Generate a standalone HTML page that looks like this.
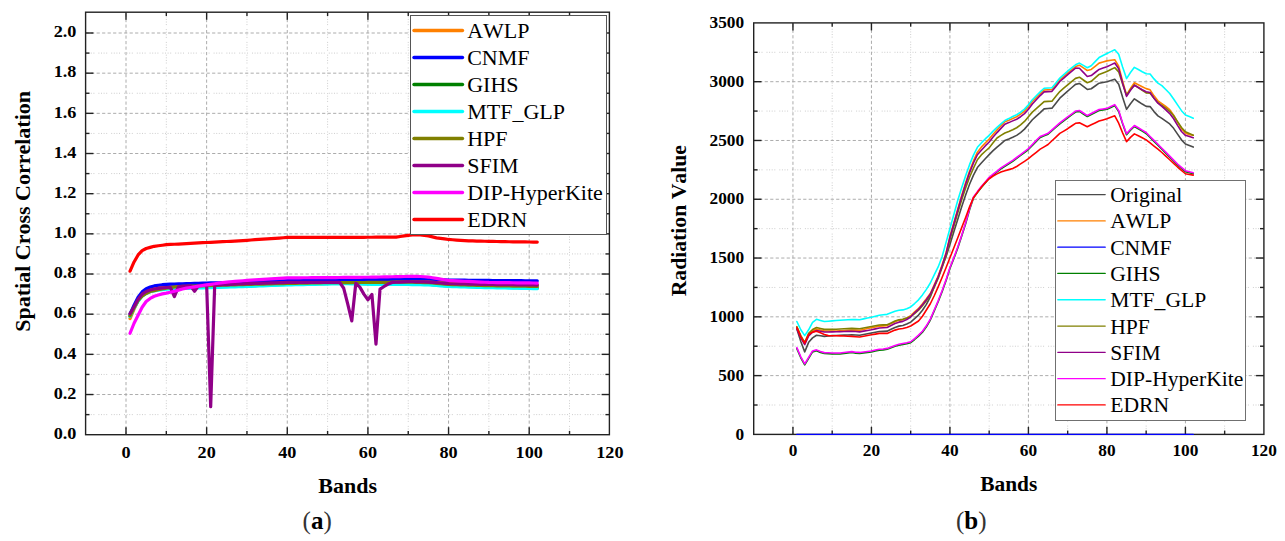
<!DOCTYPE html>
<html><head><meta charset="utf-8"><style>
html,body{margin:0;padding:0;background:#fff;}
body{width:1285px;height:541px;overflow:hidden;}
svg{display:block;}
text{font-family:"Liberation Serif",serif;fill:#000;font-kerning:none;}
.tl{font-size:17px;font-weight:bold;}
.at{font-size:21px;font-weight:bold;}
.lg{font-size:22px;}
.cap{font-size:25px;}
.mj{stroke:#acacac;stroke-width:1;stroke-dasharray:3.2 2.3;}
.mn{stroke:#cdcdcd;stroke-width:1;stroke-dasharray:1 1.6 1 1.6 1 1.6 1 4;}
.tk{stroke:#222;stroke-width:1.4;}
.ax{stroke:#222;stroke-width:1.4;}
</style></head><body>
<svg width="1285" height="541" viewBox="0 0 1285 541">
<defs><clipPath id="cl"><rect x="85.6" y="12.2" width="523.8" height="422.5"/></clipPath>
<clipPath id="cr"><rect x="751.7" y="22.9" width="512.2" height="413.5"/></clipPath></defs>
<g><line x1="166.32" y1="434.7" x2="166.32" y2="12.2" class="mn"/><line x1="246.96" y1="434.7" x2="246.96" y2="12.2" class="mn"/><line x1="327.60" y1="434.7" x2="327.60" y2="12.2" class="mn"/><line x1="408.24" y1="434.7" x2="408.24" y2="12.2" class="mn"/><line x1="488.88" y1="434.7" x2="488.88" y2="12.2" class="mn"/><line x1="569.52" y1="434.7" x2="569.52" y2="12.2" class="mn"/><line x1="85.6" y1="414.62" x2="609.4" y2="414.62" class="mn"/><line x1="85.6" y1="374.44" x2="609.4" y2="374.44" class="mn"/><line x1="85.6" y1="334.27" x2="609.4" y2="334.27" class="mn"/><line x1="85.6" y1="294.10" x2="609.4" y2="294.10" class="mn"/><line x1="85.6" y1="253.93" x2="609.4" y2="253.93" class="mn"/><line x1="85.6" y1="213.76" x2="609.4" y2="213.76" class="mn"/><line x1="85.6" y1="173.59" x2="609.4" y2="173.59" class="mn"/><line x1="85.6" y1="133.42" x2="609.4" y2="133.42" class="mn"/><line x1="85.6" y1="93.25" x2="609.4" y2="93.25" class="mn"/><line x1="85.6" y1="53.08" x2="609.4" y2="53.08" class="mn"/><line x1="126.00" y1="434.7" x2="126.00" y2="12.2" class="mj"/><line x1="206.64" y1="434.7" x2="206.64" y2="12.2" class="mj"/><line x1="287.28" y1="434.7" x2="287.28" y2="12.2" class="mj"/><line x1="367.92" y1="434.7" x2="367.92" y2="12.2" class="mj"/><line x1="448.56" y1="434.7" x2="448.56" y2="12.2" class="mj"/><line x1="529.20" y1="434.7" x2="529.20" y2="12.2" class="mj"/><line x1="85.6" y1="394.53" x2="609.4" y2="394.53" class="mj"/><line x1="85.6" y1="354.36" x2="609.4" y2="354.36" class="mj"/><line x1="85.6" y1="314.19" x2="609.4" y2="314.19" class="mj"/><line x1="85.6" y1="274.02" x2="609.4" y2="274.02" class="mj"/><line x1="85.6" y1="233.85" x2="609.4" y2="233.85" class="mj"/><line x1="85.6" y1="193.68" x2="609.4" y2="193.68" class="mj"/><line x1="85.6" y1="153.51" x2="609.4" y2="153.51" class="mj"/><line x1="85.6" y1="113.34" x2="609.4" y2="113.34" class="mj"/><line x1="85.6" y1="73.17" x2="609.4" y2="73.17" class="mj"/><line x1="85.6" y1="33.00" x2="609.4" y2="33.00" class="mj"/></g>
<g clip-path="url(#cl)"><polyline points="130.03,318.61 134.06,309.17 138.10,300.53 142.13,294.51 146.16,291.09 150.19,289.08 154.22,288.28 158.26,287.48 162.29,287.08 166.32,286.67 170.35,286.55 174.38,286.43 178.42,286.31 182.45,286.19 186.48,286.07 190.51,285.95 194.54,285.83 198.58,285.71 202.61,285.59 206.64,285.47 210.67,285.37 214.70,285.27 218.74,285.17 222.77,285.07 226.80,284.97 230.83,284.87 234.86,284.77 238.90,284.67 242.93,284.56 246.96,284.46 250.99,284.32 255.02,284.18 259.06,284.04 263.09,283.90 267.12,283.76 271.15,283.62 275.18,283.48 279.22,283.34 283.25,283.20 287.28,283.06 291.31,282.92 295.34,282.78 299.38,282.64 303.41,282.50 307.44,282.36 311.47,282.21 315.50,282.07 319.54,281.93 323.57,281.79 327.60,281.65 331.63,281.53 335.66,281.41 339.70,281.29 343.73,281.17 347.76,281.05 351.79,280.93 355.82,280.81 359.86,280.69 363.89,280.57 367.92,280.45 371.95,280.41 375.98,280.37 380.02,280.33 384.05,280.29 388.08,280.25 392.11,280.21 396.14,280.17 400.18,280.13 404.21,280.09 408.24,280.05 412.27,280.13 416.30,280.21 420.34,280.29 424.37,280.37 428.40,280.45 432.43,280.97 436.46,281.49 440.50,282.01 444.53,282.54 448.56,283.06 452.59,283.20 456.62,283.34 460.66,283.48 464.69,283.62 468.72,283.76 472.75,283.90 476.78,284.04 480.82,284.18 484.85,284.32 488.88,284.46 492.91,284.51 496.94,284.56 500.98,284.61 505.01,284.67 509.04,284.72 513.07,284.77 517.10,284.82 521.14,284.87 525.17,284.92 529.20,284.97 533.23,285.02 537.26,285.07" fill="none" stroke="#ff8000" stroke-width="3.2" stroke-linejoin="round" stroke-linecap="round"/><polyline points="130.03,314.19 134.06,305.15 138.10,297.12 142.13,291.86 146.16,288.68 150.19,287.08 154.22,285.92 158.26,285.22 162.29,284.72 166.32,284.44 170.35,284.21 174.38,284.07 178.42,283.93 182.45,283.80 186.48,283.66 190.51,283.54 194.54,283.42 198.58,283.30 202.61,283.18 206.64,283.06 210.67,282.96 214.70,282.86 218.74,282.76 222.77,282.66 226.80,282.56 230.83,282.46 234.86,282.36 238.90,282.25 242.93,282.15 246.96,282.05 250.99,281.91 255.02,281.77 259.06,281.63 263.09,281.49 267.12,281.35 271.15,281.21 275.18,281.07 279.22,280.93 283.25,280.79 287.28,280.65 291.31,280.59 295.34,280.53 299.38,280.47 303.41,280.41 307.44,280.35 311.47,280.29 315.50,280.23 319.54,280.17 323.57,280.11 327.60,280.05 331.63,280.01 335.66,279.97 339.70,279.92 343.73,279.88 347.76,279.84 351.79,279.80 355.82,279.76 359.86,279.72 363.89,279.68 367.92,279.64 371.95,279.58 375.98,279.52 380.02,279.46 384.05,279.40 388.08,279.34 392.11,279.28 396.14,279.22 400.18,279.16 404.21,279.10 408.24,279.04 412.27,279.00 416.30,278.96 420.34,278.92 424.37,278.88 428.40,278.84 432.43,279.08 436.46,279.32 440.50,279.56 444.53,279.80 448.56,280.05 452.59,280.09 456.62,280.13 460.66,280.17 464.69,280.21 468.72,280.25 472.75,280.29 476.78,280.33 480.82,280.37 484.85,280.41 488.88,280.45 492.91,280.48 496.94,280.51 500.98,280.55 505.01,280.58 509.04,280.61 513.07,280.65 517.10,280.68 521.14,280.71 525.17,280.75 529.20,280.78 533.23,280.82 537.26,280.85" fill="none" stroke="#0000ff" stroke-width="3.2" stroke-linejoin="round" stroke-linecap="round"/><polyline points="130.03,316.20 134.06,307.56 138.10,300.53 142.13,295.51 146.16,292.90 150.19,291.09 154.22,290.29 158.26,289.49 162.29,288.98 166.32,288.48 170.35,288.34 174.38,288.20 178.42,288.06 182.45,287.92 186.48,287.78 190.51,287.64 194.54,287.50 198.58,287.36 202.61,287.22 206.64,287.08 210.67,286.95 214.70,286.83 218.74,286.71 222.77,286.59 226.80,286.47 230.83,286.35 234.86,286.23 238.90,286.11 242.93,285.99 246.96,285.87 250.99,285.71 255.02,285.55 259.06,285.39 263.09,285.23 267.12,285.07 271.15,284.91 275.18,284.75 279.22,284.58 283.25,284.42 287.28,284.26 291.31,284.18 295.34,284.10 299.38,284.02 303.41,283.94 307.44,283.86 311.47,283.78 315.50,283.70 319.54,283.62 323.57,283.54 327.60,283.46 331.63,283.38 335.66,283.30 339.70,283.22 343.73,283.14 347.76,283.06 351.79,283.18 355.82,283.30 359.86,283.42 363.89,283.54 367.92,283.66 371.95,283.68 375.98,283.70 380.02,283.72 384.05,283.74 388.08,283.76 392.11,283.78 396.14,283.80 400.18,283.82 404.21,283.84 408.24,283.86 412.27,283.94 416.30,284.02 420.34,284.10 424.37,284.18 428.40,284.26 432.43,284.58 436.46,284.91 440.50,285.23 444.53,285.55 448.56,285.87 452.59,285.99 456.62,286.11 460.66,286.23 464.69,286.35 468.72,286.47 472.75,286.59 476.78,286.71 480.82,286.83 484.85,286.95 488.88,287.08 492.91,287.16 496.94,287.24 500.98,287.33 505.01,287.41 509.04,287.49 513.07,287.58 517.10,287.66 521.14,287.74 525.17,287.83 529.20,287.91 533.23,288.00 537.26,288.08" fill="none" stroke="#008000" stroke-width="3.2" stroke-linejoin="round" stroke-linecap="round"/><polyline points="130.03,316.60 134.06,308.16 138.10,301.13 142.13,296.11 146.16,293.50 150.19,291.69 154.22,290.89 158.26,290.09 162.29,289.59 166.32,289.08 170.35,288.94 174.38,288.80 178.42,288.66 182.45,288.52 186.48,288.38 190.51,288.24 194.54,288.10 198.58,287.96 202.61,287.82 206.64,287.68 210.67,287.56 214.70,287.44 218.74,287.32 222.77,287.20 226.80,287.08 230.83,286.95 234.86,286.83 238.90,286.71 242.93,286.59 246.96,286.47 250.99,286.31 255.02,286.15 259.06,285.99 263.09,285.83 267.12,285.67 271.15,285.51 275.18,285.35 279.22,285.19 283.25,285.03 287.28,284.87 291.31,284.79 295.34,284.71 299.38,284.62 303.41,284.54 307.44,284.46 311.47,284.38 315.50,284.30 319.54,284.22 323.57,284.14 327.60,284.06 331.63,283.98 335.66,283.90 339.70,283.82 343.73,283.74 347.76,283.66 351.79,283.78 355.82,283.90 359.86,284.02 363.89,284.14 367.92,284.26 371.95,284.28 375.98,284.30 380.02,284.32 384.05,284.34 388.08,284.36 392.11,284.38 396.14,284.40 400.18,284.42 404.21,284.44 408.24,284.46 412.27,284.54 416.30,284.62 420.34,284.71 424.37,284.79 428.40,284.87 432.43,285.19 436.46,285.51 440.50,285.83 444.53,286.15 448.56,286.47 452.59,286.59 456.62,286.71 460.66,286.83 464.69,286.95 468.72,287.08 472.75,287.20 476.78,287.32 480.82,287.44 484.85,287.56 488.88,287.68 492.91,287.76 496.94,287.85 500.98,287.93 505.01,288.01 509.04,288.10 513.07,288.18 517.10,288.26 521.14,288.35 525.17,288.43 529.20,288.51 533.23,288.60 537.26,288.68" fill="none" stroke="#00ffff" stroke-width="3.2" stroke-linejoin="round" stroke-linecap="round"/><polyline points="130.03,315.80 134.06,307.76 138.10,300.53 142.13,296.11 146.16,293.50 150.19,291.49 154.22,290.59 158.26,289.69 162.29,288.98 166.32,288.28 170.35,287.64 174.38,286.99 178.42,286.61 182.45,286.47 186.48,286.34 190.51,286.20 194.54,286.07 198.58,285.94 202.61,285.80 206.64,285.67 210.67,285.55 214.70,285.43 218.74,285.31 222.77,285.19 226.80,285.07 230.83,284.95 234.86,284.83 238.90,284.71 242.93,284.58 246.96,284.46 250.99,284.36 255.02,284.26 259.06,284.16 263.09,284.06 267.12,283.96 271.15,283.86 275.18,283.76 279.22,283.66 283.25,283.56 287.28,283.46 291.31,283.38 295.34,283.30 299.38,283.22 303.41,283.14 307.44,283.06 311.47,282.98 315.50,282.90 319.54,282.82 323.57,282.74 327.60,282.66 331.63,282.64 335.66,282.62 339.70,282.60 343.73,282.58 347.76,282.56 351.79,282.54 355.82,282.52 359.86,282.50 363.89,282.48 367.92,282.46 371.95,282.42 375.98,282.38 380.02,282.34 384.05,282.30 388.08,282.25 392.11,282.21 396.14,282.17 400.18,282.13 404.21,282.09 408.24,282.05 412.27,282.17 416.30,282.30 420.34,282.42 424.37,282.54 428.40,282.66 432.43,283.02 436.46,283.38 440.50,283.74 444.53,284.10 448.56,284.46 452.59,284.58 456.62,284.71 460.66,284.83 464.69,284.95 468.72,285.07 472.75,285.19 476.78,285.31 480.82,285.43 484.85,285.55 488.88,285.67 492.91,285.74 496.94,285.80 500.98,285.87 505.01,285.94 509.04,286.00 513.07,286.07 517.10,286.14 521.14,286.20 525.17,286.27 529.20,286.34 533.23,286.41 537.26,286.47" fill="none" stroke="#808000" stroke-width="3.2" stroke-linejoin="round" stroke-linecap="round"/><polyline points="130.03,313.59 134.06,306.76 138.10,299.33 142.13,294.17 146.16,291.49 150.19,290.02 154.22,288.98 158.26,288.38 162.29,287.89 166.32,287.51 170.35,287.48 174.38,296.52 178.42,286.87 182.45,286.27 186.48,286.07 190.51,285.87 194.54,291.29 198.58,285.67 202.61,285.37 206.64,285.07 210.67,406.58 214.70,285.07 218.74,284.89 222.77,284.72 226.80,284.54 230.83,284.36 234.86,284.19 238.90,284.01 242.93,283.84 246.96,283.66 250.99,283.54 255.02,283.42 259.06,283.30 263.09,283.18 267.12,283.06 271.15,282.94 275.18,282.82 279.22,282.70 283.25,282.58 287.28,282.46 291.31,282.46 295.34,282.46 299.38,282.46 303.41,282.46 307.44,282.46 311.47,282.46 315.50,282.46 319.54,282.46 323.57,282.46 327.60,282.46 331.63,282.46 335.66,282.46 339.70,282.46 343.73,288.28 347.76,304.15 351.79,320.82 355.82,283.26 359.86,287.08 363.89,294.11 367.92,299.73 371.95,294.51 375.98,344.12 380.02,289.08 384.05,286.47 388.08,284.06 392.11,282.46 396.14,282.25 400.18,282.05 404.21,281.85 408.24,281.65 412.27,281.73 416.30,281.81 420.34,281.89 424.37,281.97 428.40,282.05 432.43,282.38 436.46,282.70 440.50,283.02 444.53,283.34 448.56,283.66 452.59,283.74 456.62,283.82 460.66,283.90 464.69,283.98 468.72,284.06 472.75,284.14 476.78,284.22 480.82,284.30 484.85,284.38 488.88,284.46 492.91,284.51 496.94,284.56 500.98,284.61 505.01,284.67 509.04,284.72 513.07,284.77 517.10,284.82 521.14,284.87 525.17,284.92 529.20,284.97 533.23,285.02 537.26,285.07" fill="none" stroke="#900088" stroke-width="3.2" stroke-linejoin="round" stroke-linecap="round"/><polyline points="130.03,333.27 134.06,323.23 138.10,315.19 142.13,307.23 146.16,301.54 150.19,298.46 154.22,296.26 158.26,294.96 162.29,293.92 166.32,293.16 170.35,292.27 174.38,291.18 178.42,290.10 182.45,289.02 186.48,288.15 190.51,287.50 194.54,286.84 198.58,286.18 202.61,285.52 206.64,284.87 210.67,284.30 214.70,283.74 218.74,283.18 222.77,282.62 226.80,282.05 230.83,281.73 234.86,281.41 238.90,281.09 242.93,280.77 246.96,280.45 250.99,280.19 255.02,279.92 259.06,279.66 263.09,279.40 267.12,279.14 271.15,278.88 275.18,278.62 279.22,278.36 283.25,278.10 287.28,277.84 291.31,277.82 295.34,277.80 299.38,277.78 303.41,277.76 307.44,277.74 311.47,277.72 315.50,277.70 319.54,277.68 323.57,277.66 327.60,277.64 331.63,277.60 335.66,277.55 339.70,277.51 343.73,277.47 347.76,277.43 351.79,277.39 355.82,277.35 359.86,277.31 363.89,277.27 367.92,277.23 371.95,277.15 375.98,277.07 380.02,276.99 384.05,276.91 388.08,276.83 392.11,276.75 396.14,276.67 400.18,276.59 404.21,276.51 408.24,276.43 412.27,276.33 416.30,276.23 420.34,276.50 424.37,276.76 428.40,277.03 432.43,277.72 436.46,278.40 440.50,279.08 444.53,279.76 448.56,280.45 452.59,280.65 456.62,280.85 460.66,281.05 464.69,281.25 468.72,281.45 472.75,281.65 476.78,281.85 480.82,282.05 484.85,282.25 488.88,282.46 492.91,282.51 496.94,282.56 500.98,282.61 505.01,282.66 509.04,282.71 513.07,282.76 517.10,282.81 521.14,282.86 525.17,282.91 529.20,282.96 533.23,283.01 537.26,283.06" fill="none" stroke="#ff00ff" stroke-width="3.2" stroke-linejoin="round" stroke-linecap="round"/><polyline points="130.03,271.21 134.06,261.97 138.10,254.94 142.13,250.72 146.16,248.51 150.19,247.41 154.22,246.30 158.26,245.77 162.29,245.23 166.32,244.70 170.35,244.47 174.38,244.25 178.42,244.03 182.45,243.81 186.48,243.59 190.51,243.37 194.54,243.15 198.58,242.93 202.61,242.71 206.64,242.49 210.67,242.29 214.70,242.08 218.74,241.88 222.77,241.68 226.80,241.48 230.83,241.28 234.86,241.03 238.90,240.78 242.93,240.53 246.96,240.28 250.99,240.00 255.02,239.71 259.06,239.43 263.09,239.15 267.12,238.87 271.15,238.59 275.18,238.31 279.22,238.03 283.25,237.75 287.28,237.47 291.31,237.47 295.34,237.47 299.38,237.47 303.41,237.47 307.44,237.47 311.47,237.47 315.50,237.47 319.54,237.47 323.57,237.47 327.60,237.47 331.63,237.45 335.66,237.43 339.70,237.41 343.73,237.38 347.76,237.36 351.79,237.34 355.82,237.32 359.86,237.30 363.89,237.28 367.92,237.26 371.95,237.24 375.98,237.21 380.02,237.18 384.05,237.15 388.08,237.12 392.11,237.09 396.14,237.06 400.18,236.46 404.21,235.86 408.24,235.36 412.27,234.85 416.30,234.85 420.34,234.85 424.37,235.36 428.40,235.86 432.43,236.86 436.46,237.87 440.50,238.40 444.53,238.94 448.56,239.47 452.59,239.75 456.62,240.04 460.66,240.32 464.69,240.60 468.72,240.88 472.75,240.97 476.78,241.06 480.82,241.15 484.85,241.24 488.88,241.33 492.91,241.42 496.94,241.50 500.98,241.59 505.01,241.68 509.04,241.73 513.07,241.78 517.10,241.83 521.14,241.88 525.17,241.93 529.20,241.98 533.23,242.03 537.26,242.08" fill="none" stroke="#ff0000" stroke-width="3.2" stroke-linejoin="round" stroke-linecap="round"/></g>
<line x1="126.00" y1="434.7" x2="126.00" y2="427.2" class="tk"/><line x1="126.00" y1="12.2" x2="126.00" y2="19.7" class="tk"/><line x1="206.64" y1="434.7" x2="206.64" y2="427.2" class="tk"/><line x1="206.64" y1="12.2" x2="206.64" y2="19.7" class="tk"/><line x1="287.28" y1="434.7" x2="287.28" y2="427.2" class="tk"/><line x1="287.28" y1="12.2" x2="287.28" y2="19.7" class="tk"/><line x1="367.92" y1="434.7" x2="367.92" y2="427.2" class="tk"/><line x1="367.92" y1="12.2" x2="367.92" y2="19.7" class="tk"/><line x1="448.56" y1="434.7" x2="448.56" y2="427.2" class="tk"/><line x1="448.56" y1="12.2" x2="448.56" y2="19.7" class="tk"/><line x1="529.20" y1="434.7" x2="529.20" y2="427.2" class="tk"/><line x1="529.20" y1="12.2" x2="529.20" y2="19.7" class="tk"/><line x1="166.32" y1="434.7" x2="166.32" y2="430.9" class="tk"/><line x1="166.32" y1="12.2" x2="166.32" y2="16.0" class="tk"/><line x1="246.96" y1="434.7" x2="246.96" y2="430.9" class="tk"/><line x1="246.96" y1="12.2" x2="246.96" y2="16.0" class="tk"/><line x1="327.60" y1="434.7" x2="327.60" y2="430.9" class="tk"/><line x1="327.60" y1="12.2" x2="327.60" y2="16.0" class="tk"/><line x1="408.24" y1="434.7" x2="408.24" y2="430.9" class="tk"/><line x1="408.24" y1="12.2" x2="408.24" y2="16.0" class="tk"/><line x1="488.88" y1="434.7" x2="488.88" y2="430.9" class="tk"/><line x1="488.88" y1="12.2" x2="488.88" y2="16.0" class="tk"/><line x1="569.52" y1="434.7" x2="569.52" y2="430.9" class="tk"/><line x1="569.52" y1="12.2" x2="569.52" y2="16.0" class="tk"/><line x1="85.6" y1="394.53" x2="93.39999999999999" y2="394.53" class="tk"/><line x1="609.4" y1="394.53" x2="601.6" y2="394.53" class="tk"/><line x1="85.6" y1="354.36" x2="93.39999999999999" y2="354.36" class="tk"/><line x1="609.4" y1="354.36" x2="601.6" y2="354.36" class="tk"/><line x1="85.6" y1="314.19" x2="93.39999999999999" y2="314.19" class="tk"/><line x1="609.4" y1="314.19" x2="601.6" y2="314.19" class="tk"/><line x1="85.6" y1="274.02" x2="93.39999999999999" y2="274.02" class="tk"/><line x1="609.4" y1="274.02" x2="601.6" y2="274.02" class="tk"/><line x1="85.6" y1="233.85" x2="93.39999999999999" y2="233.85" class="tk"/><line x1="609.4" y1="233.85" x2="601.6" y2="233.85" class="tk"/><line x1="85.6" y1="193.68" x2="93.39999999999999" y2="193.68" class="tk"/><line x1="609.4" y1="193.68" x2="601.6" y2="193.68" class="tk"/><line x1="85.6" y1="153.51" x2="93.39999999999999" y2="153.51" class="tk"/><line x1="609.4" y1="153.51" x2="601.6" y2="153.51" class="tk"/><line x1="85.6" y1="113.34" x2="93.39999999999999" y2="113.34" class="tk"/><line x1="609.4" y1="113.34" x2="601.6" y2="113.34" class="tk"/><line x1="85.6" y1="73.17" x2="93.39999999999999" y2="73.17" class="tk"/><line x1="609.4" y1="73.17" x2="601.6" y2="73.17" class="tk"/><line x1="85.6" y1="33.00" x2="93.39999999999999" y2="33.00" class="tk"/><line x1="609.4" y1="33.00" x2="601.6" y2="33.00" class="tk"/><line x1="85.6" y1="414.62" x2="89.5" y2="414.62" class="tk"/><line x1="609.4" y1="414.62" x2="605.5" y2="414.62" class="tk"/><line x1="85.6" y1="374.44" x2="89.5" y2="374.44" class="tk"/><line x1="609.4" y1="374.44" x2="605.5" y2="374.44" class="tk"/><line x1="85.6" y1="334.27" x2="89.5" y2="334.27" class="tk"/><line x1="609.4" y1="334.27" x2="605.5" y2="334.27" class="tk"/><line x1="85.6" y1="294.10" x2="89.5" y2="294.10" class="tk"/><line x1="609.4" y1="294.10" x2="605.5" y2="294.10" class="tk"/><line x1="85.6" y1="253.93" x2="89.5" y2="253.93" class="tk"/><line x1="609.4" y1="253.93" x2="605.5" y2="253.93" class="tk"/><line x1="85.6" y1="213.76" x2="89.5" y2="213.76" class="tk"/><line x1="609.4" y1="213.76" x2="605.5" y2="213.76" class="tk"/><line x1="85.6" y1="173.59" x2="89.5" y2="173.59" class="tk"/><line x1="609.4" y1="173.59" x2="605.5" y2="173.59" class="tk"/><line x1="85.6" y1="133.42" x2="89.5" y2="133.42" class="tk"/><line x1="609.4" y1="133.42" x2="605.5" y2="133.42" class="tk"/><line x1="85.6" y1="93.25" x2="89.5" y2="93.25" class="tk"/><line x1="609.4" y1="93.25" x2="605.5" y2="93.25" class="tk"/><line x1="85.6" y1="53.08" x2="89.5" y2="53.08" class="tk"/><line x1="609.4" y1="53.08" x2="605.5" y2="53.08" class="tk"/>
<rect x="410.5" y="15.5" width="196.0" height="219.0" fill="#fff" stroke="#555" stroke-width="1"/><line x1="414" y1="30.50" x2="462.5" y2="30.50" stroke="#ff8000" stroke-width="3.4" stroke-linecap="round"/><text x="467.2" y="37.60" class="lg" style="font-size:22px">AWLP</text><line x1="414" y1="57.49" x2="462.5" y2="57.49" stroke="#0000ff" stroke-width="3.4" stroke-linecap="round"/><text x="467.2" y="64.59" class="lg" style="font-size:22px">CNMF</text><line x1="414" y1="84.48" x2="462.5" y2="84.48" stroke="#008000" stroke-width="3.4" stroke-linecap="round"/><text x="467.2" y="91.58" class="lg" style="font-size:22px">GIHS</text><line x1="414" y1="111.47" x2="462.5" y2="111.47" stroke="#00ffff" stroke-width="3.4" stroke-linecap="round"/><text x="467.2" y="118.57" class="lg" style="font-size:22px">MTF_GLP</text><line x1="414" y1="138.46" x2="462.5" y2="138.46" stroke="#808000" stroke-width="3.4" stroke-linecap="round"/><text x="467.2" y="145.56" class="lg" style="font-size:22px">HPF</text><line x1="414" y1="165.45" x2="462.5" y2="165.45" stroke="#900088" stroke-width="3.4" stroke-linecap="round"/><text x="467.2" y="172.55" class="lg" style="font-size:22px">SFIM</text><line x1="414" y1="192.44" x2="462.5" y2="192.44" stroke="#ff00ff" stroke-width="3.4" stroke-linecap="round"/><text x="467.2" y="199.54" class="lg" style="font-size:22px">DIP-HyperKite</text><line x1="414" y1="219.43" x2="462.5" y2="219.43" stroke="#ff0000" stroke-width="3.4" stroke-linecap="round"/><text x="467.2" y="226.53" class="lg" style="font-size:22px">EDRN</text>
<rect x="85.6" y="12.2" width="523.80" height="422.50" fill="none" class="ax"/>
<text transform="translate(126.00,457.5) scale(1,0.9)" text-anchor="middle" class="tl" style="font-size:18.2px">0</text><text transform="translate(206.64,457.5) scale(1,0.9)" text-anchor="middle" class="tl" style="font-size:18.2px">20</text><text transform="translate(287.28,457.5) scale(1,0.9)" text-anchor="middle" class="tl" style="font-size:18.2px">40</text><text transform="translate(367.92,457.5) scale(1,0.9)" text-anchor="middle" class="tl" style="font-size:18.2px">60</text><text transform="translate(448.56,457.5) scale(1,0.9)" text-anchor="middle" class="tl" style="font-size:18.2px">80</text><text transform="translate(529.20,457.5) scale(1,0.9)" text-anchor="middle" class="tl" style="font-size:18.2px">100</text><text transform="translate(609.84,457.5) scale(1,0.9)" text-anchor="middle" class="tl" style="font-size:18.2px">120</text><text transform="translate(76.4,439.00) scale(1,0.9)" text-anchor="end" class="tl" style="font-size:18.2px">0.0</text><text transform="translate(76.4,398.83) scale(1,0.9)" text-anchor="end" class="tl" style="font-size:18.2px">0.2</text><text transform="translate(76.4,358.66) scale(1,0.9)" text-anchor="end" class="tl" style="font-size:18.2px">0.4</text><text transform="translate(76.4,318.49) scale(1,0.9)" text-anchor="end" class="tl" style="font-size:18.2px">0.6</text><text transform="translate(76.4,278.32) scale(1,0.9)" text-anchor="end" class="tl" style="font-size:18.2px">0.8</text><text transform="translate(76.4,238.15) scale(1,0.9)" text-anchor="end" class="tl" style="font-size:18.2px">1.0</text><text transform="translate(76.4,197.98) scale(1,0.9)" text-anchor="end" class="tl" style="font-size:18.2px">1.2</text><text transform="translate(76.4,157.81) scale(1,0.9)" text-anchor="end" class="tl" style="font-size:18.2px">1.4</text><text transform="translate(76.4,117.64) scale(1,0.9)" text-anchor="end" class="tl" style="font-size:18.2px">1.6</text><text transform="translate(76.4,77.47) scale(1,0.9)" text-anchor="end" class="tl" style="font-size:18.2px">1.8</text><text transform="translate(76.4,37.30) scale(1,0.9)" text-anchor="end" class="tl" style="font-size:18.2px">2.0</text>
<text transform="translate(30.0,211.4) rotate(-90)" text-anchor="middle" class="at" style="font-size:22px">Spatial Cross Correlation</text>
<text x="347.65" y="492.5" text-anchor="middle" class="at" style="font-size:22px">Bands</text>
<text x="317.2" y="528.8" text-anchor="middle" class="cap"><tspan fill="#333">(</tspan><tspan font-weight="bold">a</tspan><tspan fill="#333">)</tspan></text>
<g><line x1="832.19" y1="434.4" x2="832.19" y2="22.9" class="mn"/><line x1="910.68" y1="434.4" x2="910.68" y2="22.9" class="mn"/><line x1="989.18" y1="434.4" x2="989.18" y2="22.9" class="mn"/><line x1="1067.67" y1="434.4" x2="1067.67" y2="22.9" class="mn"/><line x1="1146.16" y1="434.4" x2="1146.16" y2="22.9" class="mn"/><line x1="1224.65" y1="434.4" x2="1224.65" y2="22.9" class="mn"/><line x1="753.7" y1="405.01" x2="1263.9" y2="405.01" class="mn"/><line x1="753.7" y1="346.22" x2="1263.9" y2="346.22" class="mn"/><line x1="753.7" y1="287.44" x2="1263.9" y2="287.44" class="mn"/><line x1="753.7" y1="228.65" x2="1263.9" y2="228.65" class="mn"/><line x1="753.7" y1="169.86" x2="1263.9" y2="169.86" class="mn"/><line x1="753.7" y1="111.08" x2="1263.9" y2="111.08" class="mn"/><line x1="753.7" y1="52.29" x2="1263.9" y2="52.29" class="mn"/><line x1="792.95" y1="434.4" x2="792.95" y2="22.9" class="mj"/><line x1="871.44" y1="434.4" x2="871.44" y2="22.9" class="mj"/><line x1="949.93" y1="434.4" x2="949.93" y2="22.9" class="mj"/><line x1="1028.42" y1="434.4" x2="1028.42" y2="22.9" class="mj"/><line x1="1106.92" y1="434.4" x2="1106.92" y2="22.9" class="mj"/><line x1="1185.41" y1="434.4" x2="1185.41" y2="22.9" class="mj"/><line x1="753.7" y1="375.61" x2="1263.9" y2="375.61" class="mj"/><line x1="753.7" y1="316.83" x2="1263.9" y2="316.83" class="mj"/><line x1="753.7" y1="258.04" x2="1263.9" y2="258.04" class="mj"/><line x1="753.7" y1="199.26" x2="1263.9" y2="199.26" class="mj"/><line x1="753.7" y1="140.47" x2="1263.9" y2="140.47" class="mj"/><line x1="753.7" y1="81.69" x2="1263.9" y2="81.69" class="mj"/></g>
<g clip-path="url(#cr)"><polyline points="796.87,328.94 800.80,341.52 804.72,351.86 808.64,342.34 812.57,337.87 816.49,335.29 820.42,335.82 824.34,336.35 828.27,335.99 832.19,335.64 836.12,335.48 840.04,335.31 843.97,335.15 847.89,334.98 851.82,334.82 855.74,335.05 859.66,335.29 863.59,334.54 867.51,333.80 871.44,333.05 875.36,332.29 879.29,331.52 883.21,331.35 887.14,331.17 891.06,329.29 894.99,327.41 898.91,326.13 902.84,325.45 906.76,324.03 910.68,322.12 914.61,318.59 918.53,315.06 922.46,310.29 926.38,304.40 930.31,296.84 934.23,286.76 938.16,276.69 942.08,266.70 946.01,256.80 949.93,244.40 953.86,231.86 957.78,219.24 961.70,206.75 965.63,194.98 969.55,184.27 973.48,175.12 977.40,167.51 981.33,163.07 985.25,158.71 989.18,154.66 993.10,150.62 997.03,147.09 1000.95,143.78 1004.88,140.47 1008.80,138.98 1012.72,137.28 1016.65,135.36 1020.57,132.54 1024.50,129.12 1028.42,124.48 1032.35,119.75 1036.27,116.18 1040.20,112.59 1044.12,108.84 1048.05,108.49 1051.97,108.14 1055.90,103.14 1059.82,98.15 1063.74,94.62 1067.67,91.09 1071.59,87.74 1075.52,84.39 1079.44,83.45 1083.37,86.45 1087.29,89.45 1091.22,88.74 1095.14,85.98 1099.07,83.21 1102.99,82.45 1106.92,81.69 1110.84,80.46 1114.76,79.24 1118.69,84.30 1122.61,97.33 1126.54,109.34 1130.46,103.70 1134.39,98.87 1138.31,101.46 1142.24,104.05 1146.16,106.40 1150.09,106.61 1154.01,111.59 1157.94,115.84 1161.86,118.37 1165.78,121.06 1169.71,123.97 1173.63,128.34 1177.56,134.17 1181.48,139.83 1185.41,144.00 1189.33,145.53 1193.26,147.06" fill="none" stroke="#4a4a4a" stroke-width="1.6" stroke-linejoin="round" stroke-linecap="round"/><polyline points="796.87,327.17 800.80,336.52 804.72,343.63 808.64,334.74 812.57,330.90 816.49,328.94 820.42,329.94 824.34,330.94 828.27,331.05 832.19,331.17 836.12,330.93 840.04,330.68 843.97,330.43 847.89,330.18 851.82,329.94 855.74,330.09 859.66,330.24 863.59,329.42 867.51,328.59 871.44,327.76 875.36,326.93 879.29,326.09 883.21,325.85 887.14,325.60 891.06,323.65 894.99,321.70 898.91,320.35 902.84,319.60 906.76,317.97 910.68,315.75 914.61,311.92 918.53,308.46 922.46,303.78 926.38,298.75 930.31,293.46 934.23,284.94 938.16,276.03 942.08,264.98 946.01,252.95 949.93,236.52 953.86,222.80 957.78,209.01 961.70,195.39 965.63,182.68 969.55,171.03 973.48,160.94 977.40,152.17 981.33,147.15 985.25,142.95 989.18,139.06 993.10,134.21 997.03,129.88 1000.95,125.77 1004.88,121.66 1008.80,120.19 1012.72,118.51 1016.65,116.79 1020.57,114.20 1024.50,111.02 1028.42,106.61 1032.35,101.51 1036.27,97.58 1040.20,93.67 1044.12,90.04 1048.05,89.81 1051.97,89.57 1055.90,84.69 1059.82,79.81 1063.74,76.40 1067.67,72.99 1071.59,69.75 1075.52,66.52 1079.44,65.21 1083.37,67.84 1087.29,70.47 1091.22,69.40 1095.14,66.27 1099.07,63.14 1102.99,62.01 1106.92,60.88 1110.84,60.29 1114.76,59.70 1118.69,66.23 1122.61,81.28 1126.54,95.02 1130.46,88.50 1134.39,82.82 1138.31,84.78 1142.24,86.74 1146.16,88.63 1150.09,89.85 1154.01,95.84 1157.94,100.85 1161.86,103.60 1165.78,106.50 1169.71,109.62 1173.63,115.13 1177.56,122.09 1181.48,128.69 1185.41,133.02 1189.33,134.71 1193.26,135.30" fill="none" stroke="#ff8000" stroke-width="1.6" stroke-linejoin="round" stroke-linecap="round"/><polyline points="796.87,348.57 800.80,357.74 804.72,364.80 808.64,358.33 812.57,351.86 816.49,350.81 820.42,352.40 824.34,353.56 828.27,353.72 832.19,353.88 836.12,354.01 840.04,353.94 843.97,353.41 847.89,352.88 851.82,352.56 855.74,353.12 859.66,353.36 863.59,352.86 867.51,352.36 871.44,351.86 875.36,350.95 879.29,350.16 883.21,349.87 887.14,349.33 891.06,347.84 894.99,346.35 898.91,345.27 902.84,344.47 906.76,343.66 910.68,342.69 914.61,339.51 918.53,336.10 922.46,332.16 926.38,326.73 930.31,320.03 934.23,310.89 938.16,301.75 942.08,291.69 946.01,280.83 949.93,268.45 953.86,258.54 957.78,248.03 961.70,236.09 965.63,223.67 969.55,209.72 973.48,197.89 977.40,192.54 981.33,187.43 985.25,182.88 989.18,178.33 993.10,175.14 997.03,171.95 1000.95,168.89 1004.88,166.36 1008.80,163.84 1012.72,161.32 1016.65,158.44 1020.57,155.46 1024.50,152.49 1028.42,149.52 1032.35,145.43 1036.27,141.33 1040.20,137.49 1044.12,135.86 1048.05,134.24 1051.97,130.75 1055.90,127.26 1059.82,123.78 1063.74,120.84 1067.67,117.90 1071.59,114.96 1075.52,112.02 1079.44,111.43 1083.37,113.96 1087.29,116.49 1091.22,114.49 1095.14,112.49 1099.07,110.49 1102.99,109.90 1106.92,109.31 1110.84,107.45 1114.76,105.59 1118.69,111.55 1122.61,123.85 1126.54,134.73 1130.46,130.27 1134.39,126.47 1138.31,128.75 1142.24,131.02 1146.16,133.46 1150.09,137.39 1154.01,141.32 1157.94,145.25 1161.86,149.18 1165.78,153.12 1169.71,157.07 1173.63,161.02 1177.56,164.96 1181.48,168.36 1185.41,171.63 1189.33,172.69 1193.26,173.74" fill="none" stroke="#008000" stroke-width="1.6" stroke-linejoin="round" stroke-linecap="round"/><polyline points="796.87,321.53 800.80,329.76 804.72,335.64 808.64,329.76 812.57,322.35 816.49,319.30 820.42,320.41 824.34,321.53 828.27,321.18 832.19,320.83 836.12,320.56 840.04,320.29 843.97,320.01 847.89,319.74 851.82,319.47 855.74,319.60 859.66,319.73 863.59,318.88 867.51,318.03 871.44,317.18 875.36,316.18 879.29,315.18 883.21,314.77 887.14,314.36 891.06,312.80 894.99,311.24 898.91,310.28 902.84,309.92 906.76,308.71 910.68,306.93 914.61,303.53 918.53,299.86 922.46,294.91 926.38,289.34 930.31,283.01 934.23,274.80 938.16,266.94 942.08,256.69 946.01,242.60 949.93,228.56 953.86,214.48 957.78,200.25 961.70,187.79 965.63,175.85 969.55,164.66 973.48,155.15 977.40,147.29 981.33,142.92 985.25,138.95 989.18,135.30 993.10,131.10 997.03,127.41 1000.95,123.95 1004.88,120.48 1008.80,118.59 1012.72,116.48 1016.65,114.74 1020.57,112.25 1024.50,109.16 1028.42,104.85 1032.35,99.75 1036.27,95.81 1040.20,91.90 1044.12,88.28 1048.05,88.04 1051.97,87.81 1055.90,82.93 1059.82,78.05 1063.74,74.64 1067.67,71.22 1071.59,67.99 1075.52,64.76 1079.44,63.11 1083.37,65.40 1087.29,67.69 1091.22,65.70 1095.14,61.64 1099.07,57.58 1102.99,55.53 1106.92,53.47 1110.84,51.61 1114.76,49.75 1118.69,54.32 1122.61,66.97 1126.54,78.59 1130.46,72.56 1134.39,67.35 1138.31,69.55 1142.24,71.75 1146.16,73.71 1150.09,73.93 1154.01,78.91 1157.94,83.15 1161.86,85.69 1165.78,89.47 1169.71,93.48 1173.63,98.94 1177.56,104.89 1181.48,110.67 1185.41,114.96 1189.33,116.60 1193.26,118.25" fill="none" stroke="#00ffff" stroke-width="1.6" stroke-linejoin="round" stroke-linecap="round"/><polyline points="796.87,326.70 800.80,335.64 804.72,342.34 808.64,333.41 812.57,329.53 816.49,327.53 820.42,328.44 824.34,329.35 828.27,329.38 832.19,329.41 836.12,329.21 840.04,329.01 843.97,328.81 847.89,328.61 851.82,328.41 855.74,328.61 859.66,328.81 863.59,328.03 867.51,327.25 871.44,326.47 875.36,325.75 879.29,325.02 883.21,324.89 887.14,324.76 891.06,322.92 894.99,321.08 898.91,319.84 902.84,319.20 906.76,318.09 910.68,316.65 914.61,313.61 918.53,310.26 922.46,305.63 926.38,300.66 930.31,295.44 934.23,287.07 938.16,278.38 942.08,267.53 946.01,255.71 949.93,239.53 953.86,226.21 957.78,212.82 961.70,199.71 965.63,187.97 969.55,177.30 973.48,168.19 977.40,159.75 981.33,154.93 985.25,151.25 989.18,147.88 993.10,142.67 997.03,137.98 1000.95,135.42 1004.88,133.06 1008.80,131.49 1012.72,129.70 1016.65,127.73 1020.57,124.87 1024.50,121.40 1028.42,116.72 1032.35,112.11 1036.27,108.66 1040.20,105.19 1044.12,101.61 1048.05,101.41 1051.97,101.21 1055.90,96.37 1059.82,91.53 1063.74,88.16 1067.67,84.79 1071.59,81.59 1075.52,78.39 1079.44,77.22 1083.37,79.98 1087.29,82.74 1091.22,81.33 1095.14,77.86 1099.07,74.40 1102.99,72.94 1106.92,71.48 1110.84,69.56 1114.76,67.64 1118.69,71.86 1122.61,83.95 1126.54,95.13 1130.46,89.62 1134.39,84.94 1138.31,87.66 1142.24,90.39 1146.16,92.88 1150.09,93.23 1154.01,98.34 1157.94,102.73 1161.86,105.40 1165.78,108.22 1169.71,111.27 1173.63,115.78 1177.56,121.74 1181.48,127.54 1185.41,131.85 1189.33,133.52 1193.26,135.18" fill="none" stroke="#808000" stroke-width="1.6" stroke-linejoin="round" stroke-linecap="round"/><polyline points="796.87,328.94 800.80,337.87 804.72,344.58 808.64,335.88 812.57,332.23 816.49,330.47 820.42,331.26 824.34,332.05 828.27,331.97 832.19,331.88 836.12,331.76 840.04,331.64 843.97,331.52 847.89,331.41 851.82,331.29 855.74,331.57 859.66,331.85 863.59,331.16 867.51,330.46 871.44,329.76 875.36,328.90 879.29,328.04 883.21,327.76 887.14,327.49 891.06,325.51 894.99,323.53 898.91,322.15 902.84,321.37 906.76,319.52 910.68,316.96 914.61,312.78 918.53,309.32 922.46,304.69 926.38,299.67 930.31,294.31 934.23,285.81 938.16,276.97 942.08,265.92 946.01,253.86 949.93,237.36 953.86,223.77 957.78,210.10 961.70,196.62 965.63,184.13 969.55,172.71 973.48,162.84 977.40,154.74 981.33,150.18 985.25,145.93 989.18,142.00 993.10,137.04 997.03,132.59 1000.95,128.36 1004.88,124.13 1008.80,122.61 1012.72,120.87 1016.65,119.21 1020.57,116.72 1024.50,113.63 1028.42,109.31 1032.35,103.94 1036.27,99.71 1040.20,95.55 1044.12,91.88 1048.05,91.61 1051.97,91.33 1055.90,86.41 1059.82,81.49 1063.74,78.04 1067.67,74.59 1071.59,71.32 1075.52,68.05 1079.44,68.24 1083.37,72.38 1087.29,76.51 1091.22,75.53 1095.14,72.50 1099.07,69.46 1102.99,68.08 1106.92,66.70 1110.84,64.86 1114.76,63.02 1118.69,68.69 1122.61,83.13 1126.54,96.37 1130.46,90.38 1134.39,85.22 1138.31,87.46 1142.24,89.70 1146.16,91.70 1150.09,92.57 1154.01,98.20 1157.94,103.14 1161.86,106.44 1165.78,109.90 1169.71,113.58 1173.63,118.72 1177.56,125.32 1181.48,131.53 1185.41,135.33 1189.33,136.49 1193.26,137.65" fill="none" stroke="#900088" stroke-width="1.6" stroke-linejoin="round" stroke-linecap="round"/><polyline points="796.87,347.63 800.80,356.80 804.72,363.86 808.64,357.39 812.57,350.92 816.49,349.87 820.42,351.46 824.34,352.62 828.27,352.78 832.19,352.94 836.12,353.07 840.04,353.00 843.97,352.47 847.89,351.94 851.82,351.62 855.74,352.18 859.66,352.42 863.59,351.92 867.51,351.42 871.44,350.92 875.36,350.01 879.29,349.22 883.21,348.93 887.14,348.39 891.06,346.90 894.99,345.41 898.91,344.33 902.84,343.53 906.76,342.72 910.68,341.75 914.61,338.57 918.53,335.16 922.46,331.22 926.38,325.79 930.31,319.09 934.23,309.95 938.16,300.81 942.08,290.75 946.01,279.89 949.93,267.51 953.86,257.60 957.78,247.09 961.70,235.14 965.63,222.73 969.55,208.78 973.48,196.95 977.40,191.60 981.33,186.49 985.25,181.94 989.18,177.39 993.10,174.20 997.03,171.01 1000.95,167.95 1004.88,165.42 1008.80,162.90 1012.72,160.38 1016.65,157.49 1020.57,154.52 1024.50,151.55 1028.42,148.58 1032.35,144.49 1036.27,140.39 1040.20,136.55 1044.12,134.92 1048.05,133.30 1051.97,129.81 1055.90,126.32 1059.82,122.84 1063.74,119.90 1067.67,116.96 1071.59,114.02 1075.52,111.08 1079.44,110.49 1083.37,113.02 1087.29,115.55 1091.22,113.55 1095.14,111.55 1099.07,109.55 1102.99,108.96 1106.92,108.37 1110.84,106.51 1114.76,104.65 1118.69,110.61 1122.61,122.91 1126.54,133.79 1130.46,129.33 1134.39,125.53 1138.31,127.81 1142.24,130.08 1146.16,132.52 1150.09,136.45 1154.01,140.38 1157.94,144.30 1161.86,148.24 1165.78,152.18 1169.71,156.13 1173.63,160.07 1177.56,164.02 1181.48,167.42 1185.41,170.69 1189.33,171.75 1193.26,172.80" fill="none" stroke="#ff00ff" stroke-width="1.6" stroke-linejoin="round" stroke-linecap="round"/><polyline points="796.87,327.53 800.80,336.82 804.72,343.05 808.64,334.46 812.57,332.11 816.49,331.17 820.42,332.82 824.34,334.46 828.27,335.64 832.19,335.72 836.12,335.80 840.04,335.88 843.97,336.03 847.89,336.19 851.82,336.35 855.74,336.70 859.66,337.05 863.59,336.31 867.51,335.56 871.44,334.82 875.36,334.11 879.29,333.41 883.21,333.41 887.14,333.41 891.06,331.76 894.99,330.11 898.91,329.04 902.84,328.55 906.76,327.47 910.68,326.00 914.61,323.50 918.53,321.00 922.46,316.25 926.38,309.99 930.31,303.73 934.23,295.75 938.16,286.83 942.08,277.47 946.01,267.73 949.93,257.76 953.86,247.74 957.78,237.70 961.70,227.66 965.63,217.57 969.55,206.90 973.48,197.67 977.40,192.38 981.33,187.34 985.25,182.61 989.18,178.74 993.10,176.02 997.03,173.90 1000.95,171.98 1004.88,170.80 1008.80,169.63 1012.72,168.45 1016.65,166.46 1020.57,163.93 1024.50,161.39 1028.42,158.60 1032.35,155.43 1036.27,152.26 1040.20,149.17 1044.12,146.82 1048.05,144.47 1051.97,140.78 1055.90,137.10 1059.82,133.42 1063.74,131.07 1067.67,128.71 1071.59,126.01 1075.52,123.31 1079.44,122.84 1083.37,124.78 1087.29,126.72 1091.22,124.83 1095.14,122.95 1099.07,121.07 1102.99,119.96 1106.92,118.84 1110.84,117.31 1114.76,115.78 1118.69,123.23 1122.61,132.85 1126.54,141.58 1130.46,137.41 1134.39,133.85 1138.31,135.81 1142.24,137.77 1146.16,139.84 1150.09,142.97 1154.01,146.09 1157.94,149.22 1161.86,152.50 1165.78,156.13 1169.71,159.76 1173.63,163.39 1177.56,167.02 1181.48,170.41 1185.41,173.74 1189.33,174.45 1193.26,175.15" fill="none" stroke="#ff0000" stroke-width="1.6" stroke-linejoin="round" stroke-linecap="round"/></g>
<line x1="792.95" y1="434.4" x2="792.95" y2="426.9" class="tk"/><line x1="792.95" y1="22.9" x2="792.95" y2="30.4" class="tk"/><line x1="871.44" y1="434.4" x2="871.44" y2="426.9" class="tk"/><line x1="871.44" y1="22.9" x2="871.44" y2="30.4" class="tk"/><line x1="949.93" y1="434.4" x2="949.93" y2="426.9" class="tk"/><line x1="949.93" y1="22.9" x2="949.93" y2="30.4" class="tk"/><line x1="1028.42" y1="434.4" x2="1028.42" y2="426.9" class="tk"/><line x1="1028.42" y1="22.9" x2="1028.42" y2="30.4" class="tk"/><line x1="1106.92" y1="434.4" x2="1106.92" y2="426.9" class="tk"/><line x1="1106.92" y1="22.9" x2="1106.92" y2="30.4" class="tk"/><line x1="1185.41" y1="434.4" x2="1185.41" y2="426.9" class="tk"/><line x1="1185.41" y1="22.9" x2="1185.41" y2="30.4" class="tk"/><line x1="832.19" y1="434.4" x2="832.19" y2="430.59999999999997" class="tk"/><line x1="832.19" y1="22.9" x2="832.19" y2="26.7" class="tk"/><line x1="910.68" y1="434.4" x2="910.68" y2="430.59999999999997" class="tk"/><line x1="910.68" y1="22.9" x2="910.68" y2="26.7" class="tk"/><line x1="989.18" y1="434.4" x2="989.18" y2="430.59999999999997" class="tk"/><line x1="989.18" y1="22.9" x2="989.18" y2="26.7" class="tk"/><line x1="1067.67" y1="434.4" x2="1067.67" y2="430.59999999999997" class="tk"/><line x1="1067.67" y1="22.9" x2="1067.67" y2="26.7" class="tk"/><line x1="1146.16" y1="434.4" x2="1146.16" y2="430.59999999999997" class="tk"/><line x1="1146.16" y1="22.9" x2="1146.16" y2="26.7" class="tk"/><line x1="1224.65" y1="434.4" x2="1224.65" y2="430.59999999999997" class="tk"/><line x1="1224.65" y1="22.9" x2="1224.65" y2="26.7" class="tk"/><line x1="753.7" y1="375.61" x2="761.5" y2="375.61" class="tk"/><line x1="1263.9" y1="375.61" x2="1256.1000000000001" y2="375.61" class="tk"/><line x1="753.7" y1="316.83" x2="761.5" y2="316.83" class="tk"/><line x1="1263.9" y1="316.83" x2="1256.1000000000001" y2="316.83" class="tk"/><line x1="753.7" y1="258.04" x2="761.5" y2="258.04" class="tk"/><line x1="1263.9" y1="258.04" x2="1256.1000000000001" y2="258.04" class="tk"/><line x1="753.7" y1="199.26" x2="761.5" y2="199.26" class="tk"/><line x1="1263.9" y1="199.26" x2="1256.1000000000001" y2="199.26" class="tk"/><line x1="753.7" y1="140.47" x2="761.5" y2="140.47" class="tk"/><line x1="1263.9" y1="140.47" x2="1256.1000000000001" y2="140.47" class="tk"/><line x1="753.7" y1="81.69" x2="761.5" y2="81.69" class="tk"/><line x1="1263.9" y1="81.69" x2="1256.1000000000001" y2="81.69" class="tk"/><line x1="753.7" y1="405.01" x2="757.6" y2="405.01" class="tk"/><line x1="1263.9" y1="405.01" x2="1260.0" y2="405.01" class="tk"/><line x1="753.7" y1="346.22" x2="757.6" y2="346.22" class="tk"/><line x1="1263.9" y1="346.22" x2="1260.0" y2="346.22" class="tk"/><line x1="753.7" y1="287.44" x2="757.6" y2="287.44" class="tk"/><line x1="1263.9" y1="287.44" x2="1260.0" y2="287.44" class="tk"/><line x1="753.7" y1="228.65" x2="757.6" y2="228.65" class="tk"/><line x1="1263.9" y1="228.65" x2="1260.0" y2="228.65" class="tk"/><line x1="753.7" y1="169.86" x2="757.6" y2="169.86" class="tk"/><line x1="1263.9" y1="169.86" x2="1260.0" y2="169.86" class="tk"/><line x1="753.7" y1="111.08" x2="757.6" y2="111.08" class="tk"/><line x1="1263.9" y1="111.08" x2="1260.0" y2="111.08" class="tk"/><line x1="753.7" y1="52.29" x2="757.6" y2="52.29" class="tk"/><line x1="1263.9" y1="52.29" x2="1260.0" y2="52.29" class="tk"/>
<rect x="1055.5" y="180.5" width="190.0" height="240.0" fill="#fff" stroke="#707070" stroke-width="1"/><line x1="1057.8" y1="194.60" x2="1105.2" y2="194.60" stroke="#4a4a4a" stroke-width="1.3" stroke-linecap="round"/><text x="1110.2" y="202.05" class="lg" style="font-size:21.6px">Original</text><line x1="1057.8" y1="220.89" x2="1105.2" y2="220.89" stroke="#ff8000" stroke-width="1.3" stroke-linecap="round"/><text x="1110.2" y="228.34" class="lg" style="font-size:21.6px">AWLP</text><line x1="1057.8" y1="247.18" x2="1105.2" y2="247.18" stroke="#0000ff" stroke-width="1.3" stroke-linecap="round"/><text x="1110.2" y="254.63" class="lg" style="font-size:21.6px">CNMF</text><line x1="1057.8" y1="273.47" x2="1105.2" y2="273.47" stroke="#008000" stroke-width="1.3" stroke-linecap="round"/><text x="1110.2" y="280.92" class="lg" style="font-size:21.6px">GIHS</text><line x1="1057.8" y1="299.76" x2="1105.2" y2="299.76" stroke="#00ffff" stroke-width="1.3" stroke-linecap="round"/><text x="1110.2" y="307.21" class="lg" style="font-size:21.6px">MTF_GLP</text><line x1="1057.8" y1="326.05" x2="1105.2" y2="326.05" stroke="#808000" stroke-width="1.3" stroke-linecap="round"/><text x="1110.2" y="333.50" class="lg" style="font-size:21.6px">HPF</text><line x1="1057.8" y1="352.34" x2="1105.2" y2="352.34" stroke="#900088" stroke-width="1.3" stroke-linecap="round"/><text x="1110.2" y="359.79" class="lg" style="font-size:21.6px">SFIM</text><line x1="1057.8" y1="378.63" x2="1105.2" y2="378.63" stroke="#ff00ff" stroke-width="1.3" stroke-linecap="round"/><text x="1110.2" y="386.08" class="lg" style="font-size:21.6px">DIP-HyperKite</text><line x1="1057.8" y1="404.92" x2="1105.2" y2="404.92" stroke="#ff0000" stroke-width="1.3" stroke-linecap="round"/><text x="1110.2" y="412.37" class="lg" style="font-size:21.6px">EDRN</text>
<rect x="753.7" y="22.9" width="510.20" height="411.50" fill="none" class="ax"/>
<polyline points="796.87,434.40 800.80,434.40 804.72,434.40 808.64,434.40 812.57,434.40 816.49,434.40 820.42,434.40 824.34,434.40 828.27,434.40 832.19,434.40 836.12,434.40 840.04,434.40 843.97,434.40 847.89,434.40 851.82,434.40 855.74,434.40 859.66,434.40 863.59,434.40 867.51,434.40 871.44,434.40 875.36,434.40 879.29,434.40 883.21,434.40 887.14,434.40 891.06,434.40 894.99,434.40 898.91,434.40 902.84,434.40 906.76,434.40 910.68,434.40 914.61,434.40 918.53,434.40 922.46,434.40 926.38,434.40 930.31,434.40 934.23,434.40 938.16,434.40 942.08,434.40 946.01,434.40 949.93,434.40 953.86,434.40 957.78,434.40 961.70,434.40 965.63,434.40 969.55,434.40 973.48,434.40 977.40,434.40 981.33,434.40 985.25,434.40 989.18,434.40 993.10,434.40 997.03,434.40 1000.95,434.40 1004.88,434.40 1008.80,434.40 1012.72,434.40 1016.65,434.40 1020.57,434.40 1024.50,434.40 1028.42,434.40 1032.35,434.40 1036.27,434.40 1040.20,434.40 1044.12,434.40 1048.05,434.40 1051.97,434.40 1055.90,434.40 1059.82,434.40 1063.74,434.40 1067.67,434.40 1071.59,434.40 1075.52,434.40 1079.44,434.40 1083.37,434.40 1087.29,434.40 1091.22,434.40 1095.14,434.40 1099.07,434.40 1102.99,434.40 1106.92,434.40 1110.84,434.40 1114.76,434.40 1118.69,434.40 1122.61,434.40 1126.54,434.40 1130.46,434.40 1134.39,434.40 1138.31,434.40 1142.24,434.40 1146.16,434.40 1150.09,434.40 1154.01,434.40 1157.94,434.40 1161.86,434.40 1165.78,434.40 1169.71,434.40 1173.63,434.40 1177.56,434.40 1181.48,434.40 1185.41,434.40 1189.33,434.40 1193.26,434.40" fill="none" stroke="#0000ff" stroke-width="1.4" stroke-linejoin="round" stroke-linecap="round"/>
<text transform="translate(792.95,455.7) scale(1,1.0)" text-anchor="middle" class="tl" style="font-size:17.3px">0</text><text transform="translate(871.44,455.7) scale(1,1.0)" text-anchor="middle" class="tl" style="font-size:17.3px">20</text><text transform="translate(949.93,455.7) scale(1,1.0)" text-anchor="middle" class="tl" style="font-size:17.3px">40</text><text transform="translate(1028.42,455.7) scale(1,1.0)" text-anchor="middle" class="tl" style="font-size:17.3px">60</text><text transform="translate(1106.92,455.7) scale(1,1.0)" text-anchor="middle" class="tl" style="font-size:17.3px">80</text><text transform="translate(1185.41,455.7) scale(1,1.0)" text-anchor="middle" class="tl" style="font-size:17.3px">100</text><text transform="translate(1263.90,455.7) scale(1,1.0)" text-anchor="middle" class="tl" style="font-size:17.3px">120</text><text transform="translate(744.1,439.60) scale(1,1.0)" text-anchor="end" class="tl" style="font-size:17.3px">0</text><text transform="translate(744.1,380.81) scale(1,1.0)" text-anchor="end" class="tl" style="font-size:17.3px">500</text><text transform="translate(744.1,322.03) scale(1,1.0)" text-anchor="end" class="tl" style="font-size:17.3px">1000</text><text transform="translate(744.1,263.24) scale(1,1.0)" text-anchor="end" class="tl" style="font-size:17.3px">1500</text><text transform="translate(744.1,204.46) scale(1,1.0)" text-anchor="end" class="tl" style="font-size:17.3px">2000</text><text transform="translate(744.1,145.67) scale(1,1.0)" text-anchor="end" class="tl" style="font-size:17.3px">2500</text><text transform="translate(744.1,86.89) scale(1,1.0)" text-anchor="end" class="tl" style="font-size:17.3px">3000</text><text transform="translate(744.1,28.10) scale(1,1.0)" text-anchor="end" class="tl" style="font-size:17.3px">3500</text>
<text transform="translate(685.7,220.75) rotate(-90)" text-anchor="middle" class="at" style="font-size:21.7px">Radiation Value</text>
<text x="1008.8" y="490.6" text-anchor="middle" class="at" style="font-size:21.4px">Bands</text>
<text x="971.2" y="528.8" text-anchor="middle" class="cap"><tspan fill="#333">(</tspan><tspan font-weight="bold">b</tspan><tspan fill="#333">)</tspan></text>
</svg>
</body></html>
